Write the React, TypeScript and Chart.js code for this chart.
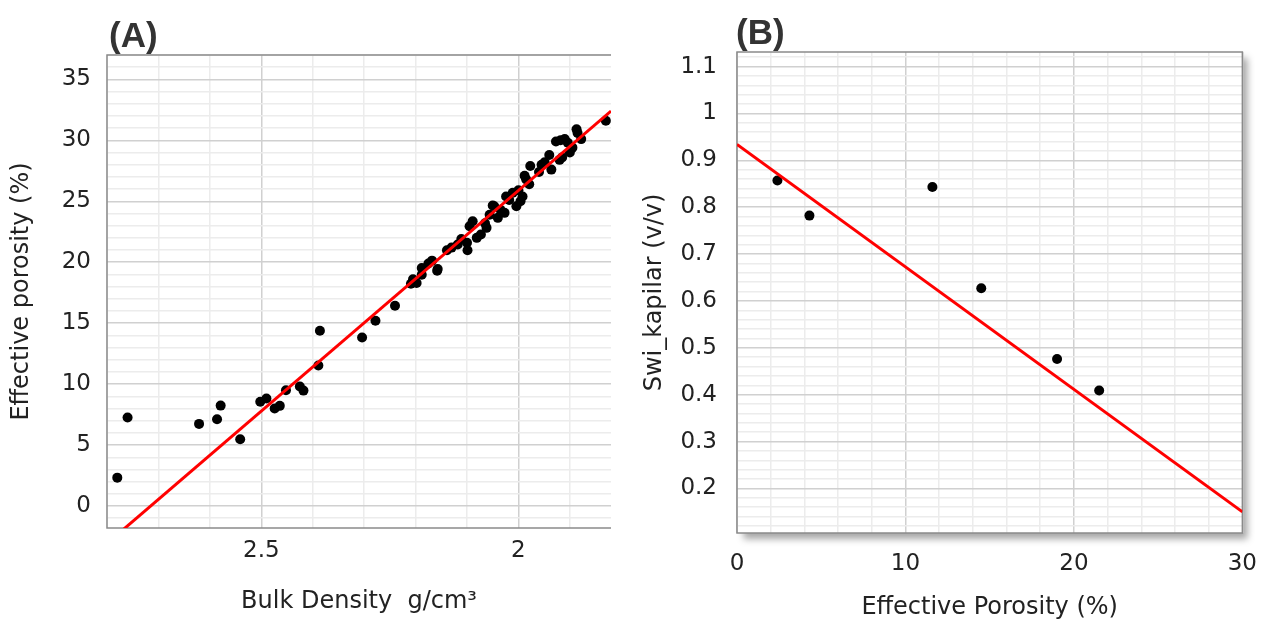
import React, { useEffect, useRef } from 'react';
import { Chart, registerables } from 'chart.js';

Chart.register(...registerables);

// Panel A: bulk density (g/cm3) vs effective porosity (%)
const densityA = [
  2.780, 2.760, 2.621, 2.586, 2.579, 2.541, 2.502, 2.490, 2.474, 2.464,
  2.452, 2.425, 2.418, 2.389, 2.386, 2.304, 2.278, 2.240, 2.209, 2.198,
  2.188, 2.158, 2.188, 2.168, 2.157, 2.139, 2.118, 2.111, 2.099, 2.095,
  2.089, 2.081, 2.073, 2.062, 2.056, 2.047, 2.040, 2.027, 2.024, 2.011,
  2.004, 2.050, 1.992, 1.988, 1.979, 1.977, 1.949, 1.940, 1.936, 1.927,
  1.915, 1.910, 1.904, 1.895, 1.887, 1.885, 1.878, 1.830, 2.065, 2.035,
  2.018, 2.000, 1.996, 1.985, 1.960, 1.955, 1.920, 2.100, 2.130, 2.205,
  2.175, 1.900, 1.918,
];
const porosityA = [
  2.33, 7.26, 6.74, 7.12, 8.24, 5.48, 8.55, 8.82, 8.00, 8.22,
  9.50, 9.80, 9.47, 11.53, 14.38, 13.83, 15.20, 16.43, 18.24, 18.30,
  18.98, 19.30, 19.53, 20.13, 19.45, 20.98, 21.45, 21.90, 20.98, 22.95,
  23.36, 22.00, 22.27, 22.82, 23.90, 24.60, 23.64, 24.05, 25.40, 25.70,
  24.60, 24.65, 25.40, 27.10, 26.40, 27.90, 28.20, 28.80, 27.60, 29.90,
  28.60, 30.10, 29.80, 29.40, 30.90, 30.60, 30.10, 31.60, 23.20, 24.30,
  25.10, 25.90, 25.00, 26.80, 27.40, 28.00, 28.40, 21.60, 21.20, 18.60,
  19.90, 29.00, 30.00,
];
const trendAx = [2.8, 1.82];
const trendAy = [-3.07, 32.4];
const xTicksA = [2.5, 2];
const yTicksA = [0, 5, 10, 15, 20, 25, 30, 35];

// Panel B: effective porosity (%) vs Swi_kapilar (v/v)
const porosityB = [2.4, 4.3, 11.6, 14.5, 19.0, 21.5];
const swiB = [0.857, 0.782, 0.843, 0.627, 0.476, 0.409];
const trendBx = [0, 30];
const trendBy = [0.934, 0.150];
const xTicksB = [0, 10, 20, 30];
const yTicksB = [0.2, 0.3, 0.4, 0.5, 0.6, 0.7, 0.8, 0.9, 1, 1.1];

const FONT = "'DejaVu Sans', Verdana, sans-serif";
const MAJOR = '#d0d0d0';
const MINOR = '#ececec';
const TICK_SIZE = 23;
const TITLE_SIZE = 24;

const inList = (v: number, list: number[]) => list.some((t) => Math.abs(t - v) < 1e-6);
const fmt = (v: number) => String(Number(v.toFixed(2)));

const pts = (xs: number[], ys: number[]) => xs.map((x, i) => ({ x, y: ys[i] }));

function framePlugin(full: boolean) {
  return {
    id: 'frame' + (full ? 'B' : 'A'),
    beforeDraw(chart: any) {
      if (!full) return;
      const { ctx, chartArea: a } = chart;
      ctx.save();
      ctx.shadowColor = 'rgba(0,0,0,0.35)';
      ctx.shadowBlur = 7;
      ctx.shadowOffsetX = 6;
      ctx.shadowOffsetY = 6;
      ctx.fillStyle = '#ffffff';
      ctx.fillRect(a.left, a.top, a.right - a.left, a.bottom - a.top);
      ctx.restore();
    },
    beforeDatasetsDraw(chart: any) {
      const { ctx, chartArea: a } = chart;
      ctx.save();
      ctx.strokeStyle = '#8a8a8a';
      ctx.lineWidth = 1.5;
      ctx.beginPath();
      if (full) {
        ctx.rect(a.left, a.top, a.right - a.left, a.bottom - a.top);
      } else {
        ctx.moveTo(a.right, a.top);
        ctx.lineTo(a.left, a.top);
        ctx.lineTo(a.left, a.bottom);
        ctx.lineTo(a.right, a.bottom);
      }
      ctx.stroke();
      ctx.restore();
    },
  };
}

function makeConfig(opts: {
  scatter: { x: number; y: number }[];
  trend: { x: number; y: number }[];
  x: any;
  y: any;
  padding: any;
  yWidth: number;
  xHeight: number;
  full: boolean;
}) {
  return {
    type: 'scatter' as const,
    data: {
      datasets: [
        {
          data: opts.trend,
          showLine: true,
          borderColor: '#ff0000',
          borderWidth: 3,
          pointRadius: 0,
          order: 0,
        },
        {
          data: opts.scatter,
          backgroundColor: '#000000',
          borderColor: '#000000',
          pointRadius: 5,
          borderWidth: 0,
          order: 1,
        },
      ],
    },
    options: {
      responsive: false,
      animation: false as const,
      devicePixelRatio: 1,
      layout: { padding: opts.padding },
      plugins: { legend: { display: false }, tooltip: { enabled: false }, title: { display: false } },
      scales: {
        x: {
          ...opts.x,
          afterFit: (s: any) => { s.height = opts.xHeight; },
        },
        y: {
          ...opts.y,
          afterFit: (s: any) => { s.width = opts.yWidth; },
        },
      },
    },
    plugins: [framePlugin(opts.full)],
  };
}

function axis(o: {
  min: number; max: number; step: number; labels: number[]; reverse?: boolean;
  title: string; titlePad: any; tickPad: number;
}) {
  return {
    type: 'linear',
    min: o.min,
    max: o.max,
    reverse: !!o.reverse,
    border: { display: false },
    grid: {
      drawTicks: false,
      lineWidth: 1.5,
      color: (c: any) => (c.tick && inList(c.tick.value, o.labels) ? MAJOR : MINOR),
    },
    ticks: {
      stepSize: o.step,
      autoSkip: false,
      includeBounds: false,
      maxRotation: 0,
      padding: o.tickPad,
      color: '#222222',
      font: { family: FONT, size: TICK_SIZE },
      callback: (v: any) => (inList(Number(v), o.labels) ? fmt(Number(v)) : ''),
    },
    title: {
      display: true,
      text: o.title,
      color: '#222222',
      font: { family: FONT, size: TITLE_SIZE },
      padding: o.titlePad,
    },
  };
}

export default function App() {
  const refA = useRef<HTMLCanvasElement>(null);
  const refB = useRef<HTMLCanvasElement>(null);

  useEffect(() => {
    const cA = new Chart(
      refA.current as HTMLCanvasElement,
      makeConfig({
        scatter: pts(densityA, porosityA),
        trend: pts(trendAx, trendAy),
        x: axis({ min: 1.82, max: 2.8, step: 0.1, labels: xTicksA, reverse: true,
          title: 'Bulk Density  g/cm³', titlePad: { top: 0, bottom: 6 }, tickPad: 9 }),
        y: axis({ min: -1.8, max: 37, step: 1, labels: yTicksA,
          title: 'Effective porosity (%)', titlePad: { top: 7, bottom: 0 }, tickPad: 16 }),
        padding: { top: 55, right: 14, left: 0, bottom: 0 },
        yWidth: 107,
        xHeight: 94,
        full: false,
      }) as any,
    );
    const cB = new Chart(
      refB.current as HTMLCanvasElement,
      makeConfig({
        scatter: pts(porosityB, swiB),
        trend: pts(trendBx, trendBy),
        x: axis({ min: 0, max: 30, step: 2, labels: xTicksB,
          title: 'Effective Porosity (%)', titlePad: { top: 0, bottom: 0 }, tickPad: 17 }),
        y: axis({ min: 0.105, max: 1.131, step: 0.02, labels: yTicksB,
          title: 'Swi_kapilar (v/v)', titlePad: { top: 10, bottom: 0 }, tickPad: 20 }),
        padding: { top: 52, right: 22, left: 0, bottom: 0 },
        yWidth: 107,
        xHeight: 89,
        full: true,
      }) as any,
    );
    return () => {
      cA.destroy();
      cB.destroy();
    };
  }, []);

  const label: React.CSSProperties = {
    position: 'absolute',
    fontFamily: "'Liberation Sans', Arial, sans-serif",
    fontWeight: 'bold',
    fontSize: 35,
    color: '#333333',
    lineHeight: '35px',
    margin: 0,
  };

  return (
    <div style={{ position: 'absolute', left: 0, top: 0, width: 1274, height: 622, background: '#ffffff', overflow: 'hidden' }}>
      <canvas ref={refA} width={625} height={622} style={{ position: 'absolute', left: 0, top: 0, width: 625, height: 622 }} />
      <canvas ref={refB} width={644} height={622} style={{ position: 'absolute', left: 630, top: 0, width: 644, height: 622 }} />
      <div style={{ ...label, left: 109, top: 17 }}>(A)</div>
      <div style={{ ...label, left: 736, top: 14 }}>(B)</div>
    </div>
  );
}
